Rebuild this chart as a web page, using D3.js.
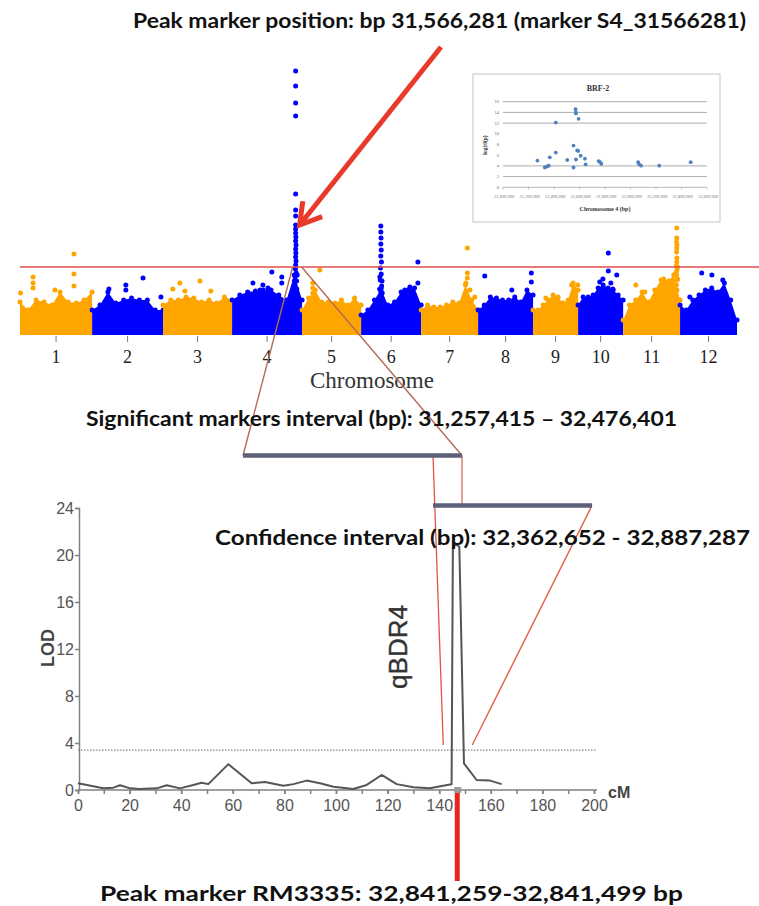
<!DOCTYPE html>
<html>
<head>
<meta charset="utf-8">
<script src="https://cdn.jsdelivr.net/npm/d3@7"></script>
<style>
  body { margin: 0; background: #fff; }
  svg { display: block; }
</style>
</head>
<body>
<div id="chart"></div>
<script>
// ---------- Manhattan plot data ----------
var chromLabels = ["1", "2", "3", "4", "5", "6", "7", "8", "9", "10", "11", "12"];
// chromosome lengths (Mb) as drawn on the x axis
var chromLengths = [37, 36.4, 35.4, 35.9, 30.3, 30.8, 29.2, 28.2, 23.1, 23.1, 29.2, 29.2];

// upper edge of the dense band of markers (-log10 p), 10 samples per chromosome
var bandTop = [
  [1.55, 1.15, 1.65, 1.55, 1.4, 2.05, 1.55, 1.5, 1.65, 2.05],
  [1.15, 1.4, 2.05, 1.5, 1.65, 1.75, 1.65, 1.65, 1.15, 1.15],
  [1.4, 1.65, 1.65, 1.8, 1.75, 1.55, 1.65, 1.5, 1.8, 1.65],
  [1.65, 1.9, 2.05, 2.1, 2.15, 2.15, 1.9, 1.65, 2.9, 1.65],
  [1.15, 1.75, 2.15, 1.55, 1.55, 1.5, 1.65, 1.4, 1.75, 1.4],
  [0.9, 1.15, 1.65, 2.2, 1.4, 1.55, 2.05, 2.15, 2.25, 1.4],
  [1.15, 1.4, 1.3, 1.3, 1.4, 1.55, 1.5, 2.4, 1.65, 1.15],
  [1.15, 1.4, 1.8, 1.75, 1.65, 1.65, 1.8, 1.55, 2.15, 1.9],
  [1.15, 1.15, 1.4, 1.65, 1.9, 1.8, 1.5, 1.65, 2.5, 2.15],
  [1.4, 1.8, 1.8, 1.9, 2.25, 2.4, 2.25, 2.15, 1.9, 1.65],
  [0.65, 1.4, 1.65, 2.05, 1.55, 2.15, 2.65, 2.55, 2.9, 1.65],
  [1.4, 1.15, 1.65, 1.9, 2.15, 2.25, 2.05, 2.5, 1.65, 0.65]
];

// single markers above the band: [chromosome, position Mb, -log10 p]
var markers = [
  [1, 6.7, 2.8], [1, 6.7, 2.5], [1, 6.7, 2.25], [1, 27.7, 3.95], [1, 27.7, 2.95], [1, 27.7, 2.35], [1, 17.9, 2.15], [1, 0.3, 2.0],
  [2, 8.6, 2.2], [2, 17.3, 2.4], [2, 17.3, 2.15], [2, 26.1, 2.75], [2, 35.3, 1.8],
  [3, 5.0, 2.2], [3, 8.6, 2.5], [3, 11.2, 2.1], [3, 18.9, 2.6], [3, 24.5, 2.1],
  [4, 10.7, 2.5], [4, 14.3, 2.15], [4, 15.8, 2.4], [4, 20.4, 3.05], [4, 25.5, 2.8], [4, 25.5, 2.5], [4, 18.4, 2.25],
  [4, 32.6, 13.1], [4, 32.6, 12.35], [4, 32.6, 11.5], [4, 32.6, 10.85], [4, 32.6, 6.95], [4, 32.6, 6.15],
  [4, 32.6, 5.85], [4, 32.6, 5.4], [4, 32.6, 5.2], [4, 32.6, 5.0], [4, 32.7, 4.8], [4, 32.6, 4.6], [4, 32.8, 4.4],
  [4, 32.6, 4.2], [4, 32.7, 4.0], [4, 32.6, 3.8], [4, 32.8, 3.6], [4, 32.6, 3.4], [4, 32.5, 3.2], [4, 32.9, 3.0],
  [4, 32.3, 2.8], [4, 33.1, 2.6], [4, 32.2, 2.4], [4, 33.2, 2.2], [4, 32.6, 2.0], [4, 31.9, 2.6], [4, 33.4, 2.9],
  [5, 9.1, 3.15], [5, 5.5, 2.5], [5, 5.5, 2.25], [5, 5.5, 2.0],
  [6, 10.1, 5.35], [6, 10.1, 5.05], [6, 10.2, 4.75], [6, 10.1, 4.45], [6, 10.3, 4.15], [6, 10.1, 3.85],
  [6, 10.4, 3.55], [6, 9.9, 3.25], [6, 10.3, 2.95], [6, 9.8, 2.65], [6, 10.5, 2.35], [6, 10.1, 2.05],
  [6, 9.6, 2.8], [6, 10.7, 2.6], [6, 9.5, 2.2], [6, 10.8, 2.0],
  [6, 29.1, 3.55], [6, 29.1, 2.5], [6, 25.0, 2.3], [6, 22.4, 2.15],
  [7, 23.7, 4.25], [7, 23.7, 3.0], [7, 23.7, 2.75], [7, 22.9, 2.5], [7, 25.0, 2.15], [7, 27.5, 1.8],
  [8, 3.4, 2.85], [8, 27.3, 3.0], [8, 27.3, 2.55], [8, 17.3, 2.15],
  [9, 19.8, 2.4], [9, 22.9, 2.4], [9, 6.5, 1.75],
  [10, 15.5, 4.0], [10, 15.5, 3.1], [10, 11.1, 2.55], [10, 12.7, 2.7], [10, 16.8, 2.5], [10, 19.8, 2.9], [10, 17.8, 2.2],
  [11, 27.5, 5.25], [11, 27.5, 4.75], [11, 27.4, 4.55], [11, 27.6, 4.4], [11, 27.5, 4.25], [11, 27.4, 4.05],
  [11, 27.6, 3.75], [11, 27.5, 3.55], [11, 27.3, 3.35], [11, 27.6, 3.15], [11, 27.4, 2.9], [11, 27.7, 2.65],
  [11, 27.3, 2.4], [11, 27.6, 2.15], [11, 27.9, 3.3], [11, 27.1, 3.0], [11, 27.9, 2.7],
  [11, 6.5, 2.4], [11, 11.1, 2.05], [11, 20.8, 2.7], [11, 23.4, 2.6],
  [12, 11.1, 3.0], [12, 16.3, 2.9], [12, 21.9, 2.65], [12, 5.0, 1.8]
];
var gwasThreshold = 3.3;
var peakChrom = 4, peakPos = 32.6;

// ---------- inset (BRF-2, chromosome 4) ----------
var insetBp = [31270000, 31328000, 31346000, 31359000, 31367000, 31414000, 31414000, 31504000, 31553000, 31553000,
  31569000, 31572000, 31572000, 31593000, 31572000, 31582000, 31590000, 31609000, 31643000, 31648000,
  31750000, 31761000, 31771000, 32060000, 32068000, 32083000, 32225000, 32472000];
var insetLogP = [5.0, 3.7, 3.9, 4.05, 5.6, 12.1, 6.5, 5.1, 7.8, 3.7,
  14.6, 14.0, 13.8, 12.8, 5.2, 6.9, 6.8, 5.9, 5.35, 4.3,
  4.9, 4.7, 4.4, 4.7, 4.3, 4.05, 4.05, 4.7];
var insetXTicks = [31000000, 31200000, 31400000, 31600000, 31800000, 32000000, 32200000, 32400000, 32600000];
var insetYTicks = [0, 2, 4, 6, 8, 10, 12, 14, 16];
var insetGrid = [2, 4, 12, 14, 16];

// ---------- LOD profile ----------
var lodCm = [0, 9.8, 13.7, 16.3, 20.2, 24, 30.5, 34.4, 39.5, 44.7, 47.9, 50.5, 58.3, 67.3, 72.5, 79.6, 83.5,
  88.6, 93.8, 99, 106.7, 111.9, 117.7, 123.5, 130, 136.4, 141, 144.8, 145.3, 146.4, 147.8, 149.6, 154.5, 159.7, 164.2];
var lodValue = [0.57, 0.14, 0.2, 0.4, 0.14, 0.08, 0.14, 0.4, 0.14, 0.43, 0.62, 0.5, 2.2, 0.57, 0.68, 0.37, 0.5,
  0.8, 0.57, 0.28, 0.08, 0.43, 1.28, 0.5, 0.23, 0.14, 0.34, 0.48, 20.6, 20.9, 20.7, 2.27, 0.85, 0.8, 0.5];
var lodThreshold = 3.4;
var cmTicks = [0, 20, 40, 60, 80, 100, 120, 140, 160, 180, 200];
var lodTicks = [0, 4, 8, 12, 16, 20, 24];
var peakCm = 147;

var texts = {
  top: "Peak marker position: bp 31,566,281 (marker S4_31566281)",
  sig: "Significant markers interval (bp): 31,257,415 \u2013 32,476,401",
  conf: "Confidence interval (bp): 32,362,652 - 32,887,287",
  bottom: "Peak marker RM3335: 32,841,259-32,841,499 bp"
};

var width = 759, height = 906;
var svg = d3.select("#chart").append("svg")
    .attr("width", width)
    .attr("height", height);

var boldFont = "Lato, 'Open Sans', sans-serif";

// ================= Manhattan plot =================
var offsets = [], total = 0;
chromLengths.forEach(function(l) { offsets.push(total); total += l; });

var xM = d3.scaleLinear().domain([0, total]).range([20, 737]);
var yM = d3.scaleLinear().domain([0, 14]).range([333, 53]);
function chromColor(i) { return i % 2 === 0 ? "#ffa500" : "#0000ff"; }

var man = svg.append("g");

// dense band of markers
bandTop.forEach(function(env, c) {
  var pts = env.map(function(v, i) {
    return [offsets[c] + chromLengths[c] * i / (env.length - 1), v];
  });
  var area = d3.area()
    .x(function(d) { return xM(d[0]); })
    .y0(yM(-0.1))
    .y1(function(d) { return yM(d[1]); });
  man.append("path")
    .attr("d", area(pts))
    .attr("fill", chromColor(c));
  man.selectAll(null)
    .data(pts)
    .enter().append("circle")
      .attr("cx", function(d) { return xM(d[0]); })
      .attr("cy", function(d) { return yM(d[1]); })
      .attr("r", 2.5)
      .attr("fill", chromColor(c));
});

// single markers
man.selectAll(".marker")
  .data(markers)
  .enter().append("circle")
    .attr("class", "marker")
    .attr("cx", function(d) { return xM(offsets[d[0] - 1] + d[1]); })
    .attr("cy", function(d) { return yM(d[2]); })
    .attr("r", 2.5)
    .attr("fill", function(d) { return chromColor(d[0] - 1); });

// chromosome ticks + labels
var chromMid = chromLabels.map(function(l, i) { return offsets[i] + chromLengths[i] / 2; });
man.selectAll(".ctick")
  .data(chromMid)
  .enter().append("line")
    .attr("x1", function(d) { return xM(d); })
    .attr("x2", function(d) { return xM(d); })
    .attr("y1", 336).attr("y2", 342)
    .attr("stroke", "#777").attr("stroke-width", 1);
man.selectAll(".clabel")
  .data(chromLabels)
  .enter().append("text")
    .attr("x", function(d, i) { return xM(chromMid[i]); })
    .attr("y", 363)
    .attr("text-anchor", "middle")
    .style("font", "18px 'Liberation Serif', serif")
    .style("fill", "#222")
    .text(function(d) { return d; });
man.append("text")
  .attr("x", 372).attr("y", 388)
  .attr("text-anchor", "middle")
  .style("font", "23px 'Liberation Serif', serif")
  .style("fill", "#333")
  .text("Chromosome");

// significance threshold
man.append("line")
  .attr("x1", 20).attr("x2", 759)
  .attr("y1", yM(gwasThreshold)).attr("y2", yM(gwasThreshold))
  .attr("stroke", "#e04e4e").attr("stroke-width", 1.5);

// ================= inset =================
var inset = svg.append("g");
inset.append("rect")
  .attr("x", 473).attr("y", 74).attr("width", 247).attr("height", 148)
  .attr("fill", "#fff").attr("stroke", "#c4c4c4").attr("stroke-width", 1);

var xI = d3.scaleLinear().domain([31000000, 32600000]).range([503, 707]);
var yI = d3.scaleLinear().domain([0, 16]).range([187.3, 101.7]);

inset.selectAll(".grid")
  .data(insetGrid)
  .enter().append("line")
    .attr("x1", 503).attr("x2", 707)
    .attr("y1", function(d) { return yI(d); })
    .attr("y2", function(d) { return yI(d); })
    .attr("stroke", "#8a8a8a").attr("stroke-width", 0.7);
inset.append("line")
  .attr("x1", 503).attr("x2", 707)
  .attr("y1", yI(0)).attr("y2", yI(0))
  .attr("stroke", "#999").attr("stroke-width", 0.7);
inset.selectAll(".itick")
  .data(insetXTicks)
  .enter().append("line")
    .attr("x1", function(d) { return xI(d); })
    .attr("x2", function(d) { return xI(d); })
    .attr("y1", yI(0)).attr("y2", yI(0) + 2)
    .attr("stroke", "#999").attr("stroke-width", 0.6);
inset.selectAll(".ixl")
  .data(insetXTicks)
  .enter().append("text")
    .attr("x", function(d) { return xI(d) + 1; })
    .attr("y", 198)
    .attr("text-anchor", "middle")
    .style("font", "italic 4.5px 'Liberation Serif', serif")
    .style("fill", "#777")
    .text(function(d) { return d3.format(",")(d); });
inset.selectAll(".iyl")
  .data(insetYTicks)
  .enter().append("text")
    .attr("x", 499)
    .attr("y", function(d) { return yI(d) + 1.5; })
    .attr("text-anchor", "end")
    .style("font", "4.5px 'Liberation Serif', serif")
    .style("fill", "#666")
    .text(function(d) { return d; });

inset.selectAll(".idot")
  .data(insetBp)
  .enter().append("circle")
    .attr("cx", function(d) { return xI(d); })
    .attr("cy", function(d, i) { return yI(insetLogP[i]); })
    .attr("r", 1.9)
    .attr("fill", "#4f81bd");

inset.append("text")
  .attr("x", 598).attr("y", 91)
  .attr("text-anchor", "middle")
  .style("font", "bold 8px 'Liberation Serif', serif")
  .style("fill", "#333")
  .text("BRF-2");
inset.append("text")
  .attr("transform", "translate(487,145)rotate(-90)")
  .attr("text-anchor", "middle")
  .style("font", "bold 5.5px 'Liberation Serif', serif")
  .style("fill", "#333")
  .text("log10(p)");
inset.append("text")
  .attr("x", 605).attr("y", 211)
  .attr("text-anchor", "middle")
  .style("font", "bold 6px 'Liberation Serif', serif")
  .style("fill", "#333")
  .text("Chromosome 4 (bp)");

// ================= LOD plot =================
var xL = d3.scaleLinear().domain([0, 200]).range([78, 594]);
var yL = d3.scaleLinear().domain([0, 24]).range([790, 508]);
var lod = svg.append("g");

// threshold (dotted)
lod.append("line")
  .attr("x1", xL(0)).attr("x2", 597)
  .attr("y1", yL(lodThreshold)).attr("y2", yL(lodThreshold))
  .attr("stroke", "#888").attr("stroke-width", 1.2)
  .attr("stroke-dasharray", "1.5,1.5");

// x axis: minor ticks every 10 cM, labels every 20
var xAxis = lod.append("g")
  .attr("transform", "translate(0," + yL(0) + ")")
  .call(d3.axisBottom(xL).tickValues(d3.range(0, 201, 10)).tickSize(4).tickFormat(""));
xAxis.select(".domain").attr("d", "M" + xL(0) + ",0H597");
var xLab = lod.append("g")
  .attr("transform", "translate(0," + yL(0) + ")")
  .call(d3.axisBottom(xL).tickValues(cmTicks).tickSize(4).tickPadding(6));
xLab.select(".domain").remove();

var yAxis = lod.append("g")
  .attr("transform", "translate(" + (xL(0) + 1) + ",0)")
  .call(d3.axisLeft(yL).tickValues(lodTicks).tickSize(4).tickPadding(1));

[xAxis, xLab, yAxis].forEach(function(a) {
  a.selectAll("path, line").attr("stroke", "#808080").attr("stroke-width", 1.5);
  a.selectAll("text")
    .style("font", "16px 'Liberation Sans', Arial, sans-serif")
    .style("fill", "#555");
});

lod.append("text")
  .attr("x", 608).attr("y", 798)
  .style("font", "bold 16px 'Liberation Sans', Arial, sans-serif")
  .style("fill", "#444")
  .text("cM");
lod.append("text")
  .attr("transform", "translate(54,648)rotate(-90)")
  .attr("text-anchor", "middle")
  .style("font", "bold 18px 'Liberation Sans', Arial, sans-serif")
  .style("fill", "#444")
  .text("LOD");

// LOD curve
var lodLine = d3.line()
  .x(function(d, i) { return xL(d); })
  .y(function(d, i) { return yL(lodValue[i]); });
lod.append("path")
  .attr("d", lodLine(lodCm))
  .attr("fill", "none")
  .attr("stroke", "#555")
  .attr("stroke-width", 2)
  .attr("stroke-linejoin", "round");

lod.append("text")
  .attr("transform", "translate(407,647)rotate(-90)")
  .attr("text-anchor", "middle")
  .style("font", "500 26px 'Liberation Sans', Arial, sans-serif")
  .style("fill", "#333")
  .style("stroke", "#333")
  .style("stroke-width", 0.4)
  .text("qBDR4");

// peak marker RM3335
lod.append("line")
  .attr("x1", xL(peakCm)).attr("x2", xL(peakCm))
  .attr("y1", yL(0) + 3).attr("y2", 881)
  .attr("stroke", "#e8251c").attr("stroke-width", 5);
lod.append("rect")
  .attr("x", xL(peakCm) - 3).attr("y", yL(0) - 3)
  .attr("width", 7).attr("height", 6)
  .attr("fill", "#9a9a9a");

// ================= interval schematic =================
var bar1 = [243, 462, 455.5];   // significant markers interval
var bar2 = [433, 592, 505.5];   // confidence interval
var peakX = xM(offsets[peakChrom - 1] + peakPos);
var thrY = yM(gwasThreshold);

var zoom = svg.append("g").attr("fill", "none");
zoom.append("line")
  .attr("x1", peakX - 3).attr("y1", thrY).attr("x2", bar1[0]).attr("y2", bar1[2])
  .attr("stroke", "#b56a55").attr("stroke-width", 1.4);
zoom.append("line")
  .attr("x1", peakX + 6).attr("y1", thrY).attr("x2", bar1[1]).attr("y2", bar1[2])
  .attr("stroke", "#b56a55").attr("stroke-width", 1.4);
zoom.append("line")
  .attr("x1", bar1[1]).attr("y1", bar1[2]).attr("x2", bar1[1]).attr("y2", bar2[2])
  .attr("stroke", "#d86a58").attr("stroke-width", 1.3);
zoom.append("line")
  .attr("x1", bar2[0]).attr("y1", bar1[2]).attr("x2", xL(peakCm) - 14).attr("y2", yL(lodThreshold) - 5)
  .attr("stroke", "#e2553f").attr("stroke-width", 1.3);
zoom.append("line")
  .attr("x1", bar2[1]).attr("y1", bar2[2]).attr("x2", xL(peakCm) + 15).attr("y2", yL(lodThreshold) - 5)
  .attr("stroke", "#e2553f").attr("stroke-width", 1.3);

[bar1, bar2].forEach(function(b) {
  svg.append("line")
    .attr("x1", b[0]).attr("x2", b[1])
    .attr("y1", b[2]).attr("y2", b[2])
    .attr("stroke", "#5c6079").attr("stroke-width", 4.5);
});

// ================= captions =================
function caption(txt, cx, y, len) {
  svg.append("text")
    .attr("x", cx).attr("y", y)
    .attr("text-anchor", "middle")
    .attr("textLength", len)
    .attr("lengthAdjust", "spacingAndGlyphs")
    .style("font-family", boldFont)
    .style("font-weight", "bold")
    .style("font-size", "20px")
    .style("fill", "#111")
    .text(txt);
}
caption(texts.top, 439.5, 28, 613);
caption(texts.sig, 381.5, 426, 591);
caption(texts.conf, 482.5, 545, 535);
caption(texts.bottom, 391.5, 901, 583);

// ================= red arrow to the peak =================
var tip = [peakX + 4, yM(5.4)], start = [441, 47];
var ang = Math.atan2(start[1] - tip[1], start[0] - tip[0]);
var armLen = 24, spread = 31 * Math.PI / 180;
var arm1 = [tip[0] + armLen * Math.cos(ang - spread), tip[1] + armLen * Math.sin(ang - spread)];
var arm2 = [tip[0] + armLen * Math.cos(ang + spread), tip[1] + armLen * Math.sin(ang + spread)];
svg.append("path")
  .attr("d", "M" + start + "L" + tip)
  .attr("stroke", "#e8392a").attr("stroke-width", 5).attr("fill", "none");
svg.append("path")
  .attr("d", "M" + arm1 + "L" + tip + "L" + arm2)
  .attr("stroke", "#e8392a").attr("stroke-width", 5).attr("fill", "none")
  .attr("stroke-linejoin", "miter");
</script>
</body>
</html>
